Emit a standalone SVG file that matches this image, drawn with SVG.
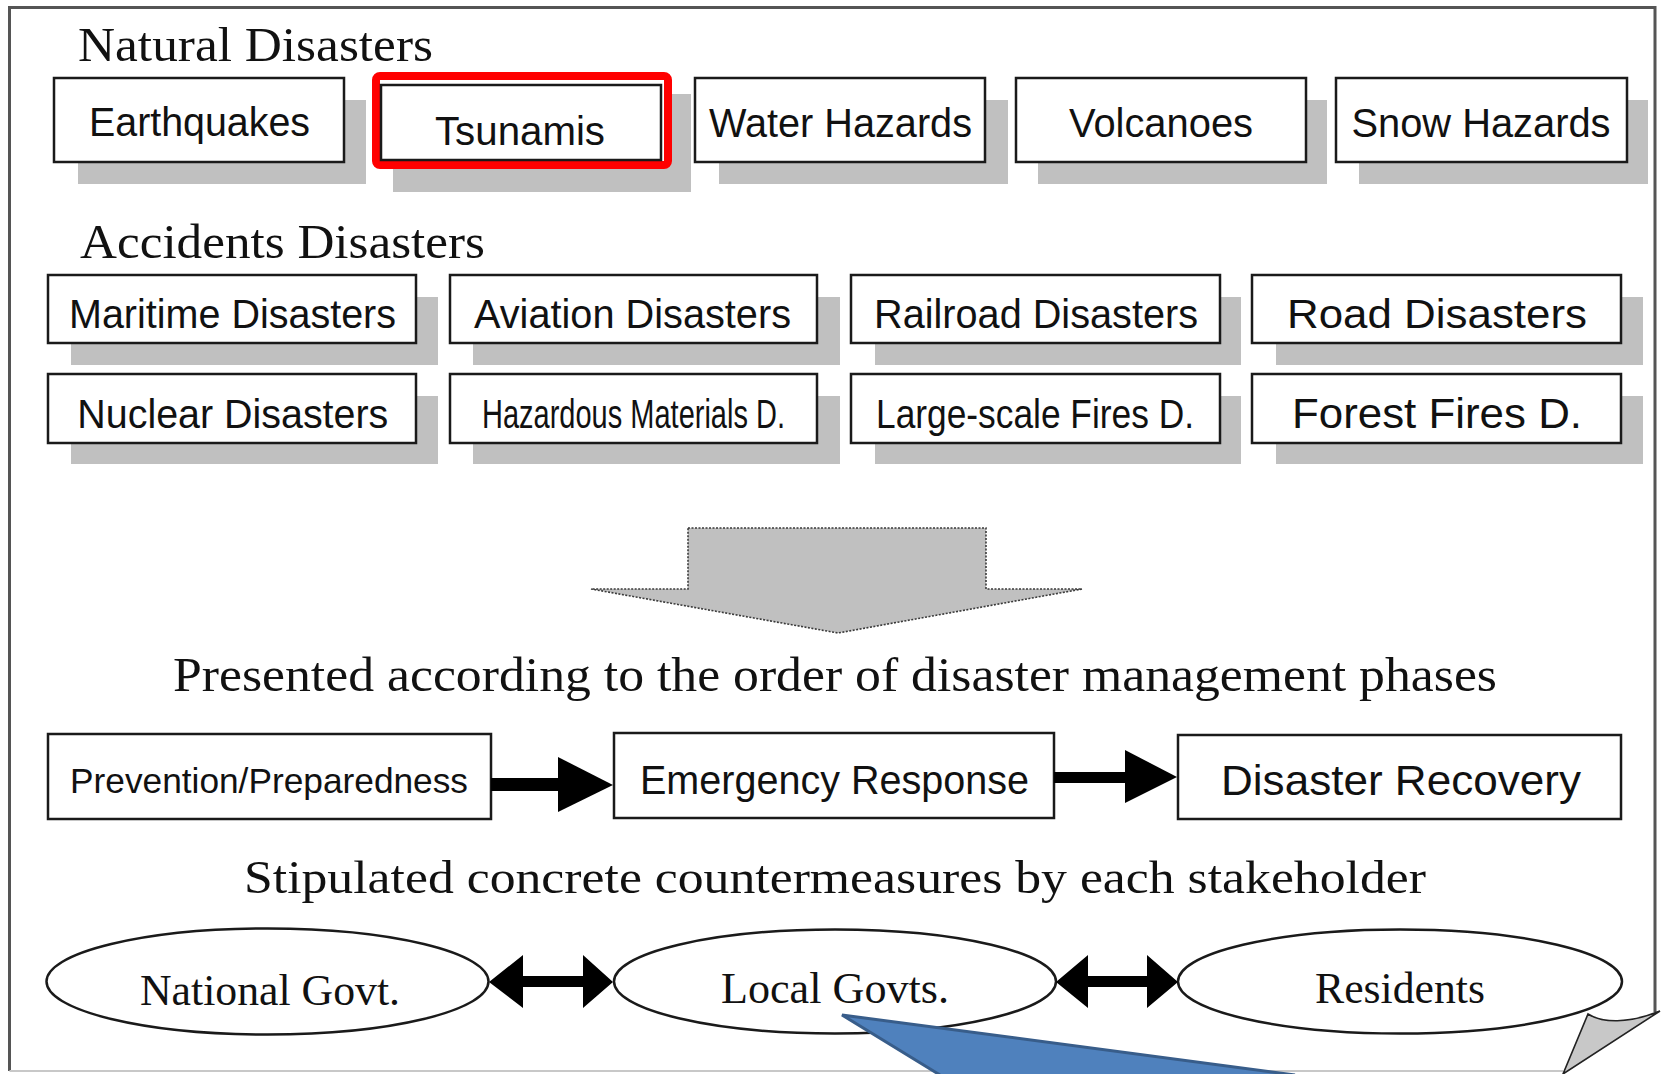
<svg xmlns="http://www.w3.org/2000/svg" width="1661" height="1074" viewBox="0 0 1661 1074">
<style>
  .box{fill:#fff;stroke:#1a1a1a;stroke-width:2.5}
  .shadow{fill:#c0c0c0}
  .sans{font-family:"Liberation Sans",Arial,sans-serif;fill:#111;text-anchor:middle}
  .serif{font-family:"Liberation Serif","Times New Roman",serif;fill:#111}
  .ell{fill:#fff;stroke:#1a1a1a;stroke-width:2.5}
  .arrow{fill:#000}
</style>
<rect x="0" y="0" width="1661" height="1074" fill="#fff"/>
<!-- frame -->
<g id="frame">
  <path d="M1655 1012 V7.5 H9.5 V1071" fill="none" stroke="#555" stroke-width="3"/>
  <line x1="9.5" y1="1071" x2="1563" y2="1071" stroke="#c8c8c8" stroke-width="2"/>
</g>

<!-- headings -->
<text id="h-natural" class="serif" x="78" y="61" font-size="49" textLength="355" lengthAdjust="spacingAndGlyphs">Natural Disasters</text>
<text id="h-accidents" class="serif" x="80" y="258" font-size="49" textLength="405" lengthAdjust="spacingAndGlyphs">Accidents Disasters</text>

<!-- Natural disasters row -->
<g id="n-earthquakes">
  <rect class="shadow" x="78" y="100" width="288" height="84"/>
  <rect class="box" x="54" y="78" width="290" height="84"/>
  <text class="sans" x="199.5" y="136" font-size="40" textLength="221" lengthAdjust="spacingAndGlyphs">Earthquakes</text>
</g>
<g id="n-tsunamis">
  <rect class="shadow" x="393" y="94" width="298" height="98"/>
  <rect x="376" y="76" width="292" height="89" rx="4" fill="#fff" stroke="#ff0000" stroke-width="8"/>
  <rect class="box" x="381" y="85" width="280" height="75"/>
  <text class="sans" x="520" y="145" font-size="40" textLength="170" lengthAdjust="spacingAndGlyphs">Tsunamis</text>
</g>
<g id="n-water">
  <rect class="shadow" x="719" y="100" width="289" height="84"/>
  <rect class="box" x="695" y="78" width="290" height="84"/>
  <text class="sans" x="840.5" y="137" font-size="40" textLength="263" lengthAdjust="spacingAndGlyphs">Water Hazards</text>
</g>
<g id="n-volcanoes">
  <rect class="shadow" x="1038" y="100" width="289" height="84"/>
  <rect class="box" x="1016" y="78" width="290" height="84"/>
  <text class="sans" x="1161" y="137" font-size="40" textLength="184" lengthAdjust="spacingAndGlyphs">Volcanoes</text>
</g>
<g id="n-snow">
  <rect class="shadow" x="1359" y="100" width="289" height="84"/>
  <rect class="box" x="1336" y="78" width="291" height="84"/>
  <text class="sans" x="1481" y="137" font-size="40" textLength="259" lengthAdjust="spacingAndGlyphs">Snow Hazards</text>
</g>

<!-- Accident disasters row 1 -->
<g id="n-maritime">
  <rect class="shadow" x="71" y="297" width="367" height="68"/>
  <rect class="box" x="48" y="275" width="368" height="68"/>
  <text class="sans" x="232.5" y="328" font-size="40" textLength="327" lengthAdjust="spacingAndGlyphs">Maritime Disasters</text>
</g>
<g id="n-aviation">
  <rect class="shadow" x="473" y="297" width="367" height="68"/>
  <rect class="box" x="450" y="275" width="367" height="68"/>
  <text class="sans" x="632.5" y="328" font-size="40" textLength="317" lengthAdjust="spacingAndGlyphs">Aviation Disasters</text>
</g>
<g id="n-railroad">
  <rect class="shadow" x="875" y="297" width="366" height="68"/>
  <rect class="box" x="851" y="275" width="369" height="68"/>
  <text class="sans" x="1036" y="328" font-size="40" textLength="324" lengthAdjust="spacingAndGlyphs">Railroad Disasters</text>
</g>
<g id="n-road">
  <rect class="shadow" x="1276" y="297" width="367" height="68"/>
  <rect class="box" x="1252" y="275" width="369" height="68"/>
  <text class="sans" x="1437" y="328" font-size="40" textLength="300" lengthAdjust="spacingAndGlyphs">Road Disasters</text>
</g>

<!-- Accident disasters row 2 -->
<g id="n-nuclear">
  <rect class="shadow" x="71" y="396" width="367" height="68"/>
  <rect class="box" x="48" y="374" width="368" height="69"/>
  <text class="sans" x="232.8" y="428" font-size="40" textLength="311" lengthAdjust="spacingAndGlyphs">Nuclear Disasters</text>
</g>
<g id="n-hazmat">
  <rect class="shadow" x="473" y="396" width="367" height="68"/>
  <rect class="box" x="450" y="374" width="367" height="69"/>
  <text class="sans" x="633.5" y="428" font-size="40" textLength="303" lengthAdjust="spacingAndGlyphs">Hazardous Materials D.</text>
</g>
<g id="n-largefire">
  <rect class="shadow" x="875" y="396" width="366" height="68"/>
  <rect class="box" x="851" y="374" width="369" height="69"/>
  <text class="sans" x="1035" y="428" font-size="40" textLength="318" lengthAdjust="spacingAndGlyphs">Large-scale Fires D.</text>
</g>
<g id="n-forest">
  <rect class="shadow" x="1276" y="396" width="367" height="68"/>
  <rect class="box" x="1252" y="374" width="369" height="69"/>
  <text class="sans" x="1437" y="428" font-size="42" textLength="290" lengthAdjust="spacingAndGlyphs">Forest Fires D.</text>
</g>

<!-- big down arrow -->
<g id="n-bigarrow">
  <polygon points="688,528 986,528 986,589 1082,589 838,633 591,589 688,589" fill="#c0c0c0" stroke="#3a3a3a" stroke-width="1.6" stroke-dasharray="2 1.5"/>
</g>

<text id="t-presented" class="serif" x="835" y="691" font-size="48" text-anchor="middle" textLength="1324" lengthAdjust="spacingAndGlyphs">Presented according to the order of disaster management phases</text>

<!-- phases -->
<g id="n-prevention">
  <rect class="box" x="48" y="734" width="443" height="85"/>
  <text class="sans" x="269" y="793" font-size="35" textLength="398" lengthAdjust="spacingAndGlyphs">Prevention/Preparedness</text>
</g>
<g id="n-emergency">
  <rect class="box" x="614" y="733" width="440" height="85"/>
  <text class="sans" x="834.5" y="794" font-size="40" textLength="389" lengthAdjust="spacingAndGlyphs">Emergency Response</text>
</g>
<g id="n-recovery">
  <rect class="box" x="1178" y="735" width="443" height="84"/>
  <text class="sans" x="1401" y="795" font-size="42" textLength="360" lengthAdjust="spacingAndGlyphs">Disaster Recovery</text>
</g>

<text id="t-stipulated" class="serif" x="835" y="893" font-size="46" text-anchor="middle" textLength="1182" lengthAdjust="spacingAndGlyphs">Stipulated concrete countermeasures by each stakeholder</text>

<!-- stakeholders -->
<g id="n-national">
  <ellipse class="ell" cx="267.5" cy="981.5" rx="221" ry="53"/>
  <text class="serif" x="270" y="1005" font-size="44" text-anchor="middle" textLength="260" lengthAdjust="spacingAndGlyphs">National Govt.</text>
</g>
<g id="n-local">
  <ellipse class="ell" cx="835" cy="981.5" rx="221" ry="52"/>
  <text class="serif" x="835" y="1003" font-size="44" text-anchor="middle" textLength="228" lengthAdjust="spacingAndGlyphs">Local Govts.</text>
</g>
<g id="n-residents">
  <ellipse class="ell" cx="1400" cy="981.5" rx="222" ry="52"/>
  <text class="serif" x="1400" y="1003" font-size="44" text-anchor="middle" textLength="170" lengthAdjust="spacingAndGlyphs">Residents</text>
</g>

<!-- connectors -->
<g id="connectors">
  <rect class="arrow" x="491" y="778" width="68" height="13"/>
  <polygon class="arrow" points="558,757 613,785 558,812"/>
  <rect class="arrow" x="1054" y="772" width="72" height="11"/>
  <polygon class="arrow" points="1125,750 1177,777 1125,803"/>
  <polygon class="arrow" points="489,982 523,955 523,976 583,976 583,955 613,982 583,1008 583,987 523,987 523,1008"/>
  <polygon class="arrow" points="1056,982 1088,955 1088,976 1147,976 1147,955 1178,982 1147,1008 1147,987 1088,987 1088,1008"/>
</g>

<!-- page curl -->
<g id="n-curl">
  <path d="M1588 1014 C1602 1023 1628 1024 1660 1011 L1563 1074 Z" fill="#c8c8c8" stroke="#222" stroke-width="1.6"/>
</g>

<!-- blue callout pointer -->
<g id="n-callout">
  <polygon points="842,1015 1295,1075 940,1075" fill="#4f81bd"/>
  <path d="M940 1075 L842 1015 L1295 1075" fill="none" stroke="#385d8a" stroke-width="3"/>
</g>
</svg>
